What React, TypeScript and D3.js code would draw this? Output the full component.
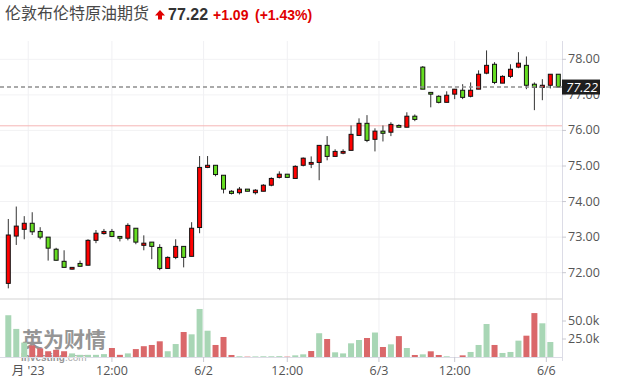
import React from 'react';
import * as d3 from 'd3';

const W = 622;
const H = 391;

const title = '伦敦布伦特原油期货';
const lastPriceText = '77.22';
const changeText = '+1.09';
const changePctText = '(+1.43%)';
const lastPrice = 77.22;
const prevClose = 76.13;

const opens = [
  71.70, 73.03, 73.22, 73.39, 73.16, 73.00, 72.66, 72.32, 72.10, 72.26,
  72.21, 72.91, 73.10, 73.16, 73.02, 72.97, 73.25, 72.77, 72.86, 72.71,
  72.12, 72.43, 72.74, 72.46, 73.27, 74.96, 75.02, 74.74, 74.29, 74.25,
  74.35, 74.25, 74.29, 74.46, 74.68, 74.77, 74.65, 75.02, 75.05, 75.10,
  75.58, 75.27, 75.36, 75.44, 75.86, 76.20, 75.75, 75.98, 75.95, 76.14,
  76.09, 76.40, 77.78, 77.07, 76.96, 76.79, 77.02, 77.13, 76.96, 77.16,
  77.61, 77.86, 77.33, 77.52, 77.78, 77.83, 77.30, 77.21, 77.27, 77.58,
];
const closes = [
  73.06, 73.31, 73.39, 73.15, 73.00, 72.69, 72.35, 72.15, 72.15, 72.18,
  72.91, 73.11, 73.16, 73.02, 72.97, 73.33, 72.86, 72.83, 72.74, 72.12,
  72.43, 72.74, 72.43, 73.25, 74.96, 75.02, 74.76, 74.35, 74.23, 74.35,
  74.29, 74.32, 74.46, 74.65, 74.77, 74.68, 74.99, 75.22, 75.10, 75.58,
  75.27, 75.41, 75.41, 75.89, 76.20, 75.72, 75.98, 75.92, 76.17, 76.09,
  76.40, 76.31, 77.16, 77.02, 76.79, 76.99, 77.16, 76.93, 77.13, 77.58,
  77.83, 77.35, 77.52, 77.72, 77.89, 77.27, 77.21, 77.27, 77.58, 77.22,
];
const highs = [
  73.51, 73.86, 73.59, 73.70, 73.28, 73.00, 72.70, 72.63, 72.16, 72.34,
  72.94, 73.20, 73.23, 73.23, 73.02, 73.39, 73.25, 73.05, 72.86, 72.80,
  72.46, 72.94, 72.74, 73.42, 75.28, 75.28, 75.02, 74.74, 74.32, 74.41,
  74.35, 74.35, 74.49, 74.68, 74.85, 74.77, 75.02, 75.24, 75.27, 75.58,
  75.84, 75.47, 75.47, 76.14, 76.34, 76.43, 76.06, 76.14, 76.23, 76.17,
  76.51, 76.45, 77.81, 77.07, 76.99, 77.10, 77.16, 77.30, 77.35, 77.69,
  78.25, 77.92, 77.55, 77.86, 78.20, 78.08, 77.35, 77.44, 77.58, 77.58,
];
const lows = [
  71.56, 72.78, 72.94, 73.06, 72.94, 72.34, 72.34, 72.15, 72.09, 72.18,
  72.21, 72.83, 73.07, 73.00, 72.88, 72.91, 72.80, 72.63, 72.38, 72.07,
  72.12, 72.38, 72.15, 72.46, 73.11, 74.94, 74.71, 74.23, 74.20, 74.20,
  74.29, 74.20, 74.29, 74.43, 74.65, 74.68, 74.65, 74.99, 74.94, 74.60,
  75.16, 75.27, 75.33, 75.44, 75.86, 75.67, 75.41, 75.69, 75.84, 76.09,
  76.09, 76.26, 77.16, 76.65, 76.76, 76.79, 76.88, 76.88, 76.93, 77.16,
  77.58, 77.30, 77.33, 77.47, 77.75, 77.16, 76.57, 76.85, 77.18, 77.22,
];
// volume in thousands
const volumes = [
  58, 39, 20, 16, 12, 8, 10, 8, 5, 3,
  3, 3, 4, 12.5, 3, 5, 11, 15, 16.7, 21.8,
  8, 18, 34.7, 31.5, 66.7, 36.5, 16.7, 27.8, 2.8, 1,
  0.5, 0.8, 1, 1, 1.2, 0.5, 2.3, 3.7, 8.3, 33,
  25, 6.5, 5, 19, 23.6, 26.4, 34, 13.9, 17.6, 29,
  12.5, 2.8, 3.7, 7.9, 2.8, 1, 0, 2.3, 7, 16.7,
  45.8, 16.7, 5.6, 7, 22.7, 29.6, 61, 46.8, 20.8, 0,
];

const xTickIndex = [2.5, 13, 24.5, 35, 46.5, 56, 67.5];
const xTickLabels = ["月 '23", '12:00', '6/2', '12:00', '6/3', '12:00', '6/6'];
const priceTicks = [72, 73, 74, 75, 76, 77, 78];
const volumeTicks = [25, 50];

const UP = '#ff0000';
const DOWN = '#66dd22';
const VOL_UP = '#a8d6b5';
const VOL_DOWN = '#da686a';
const LABEL_FONT = "'Open Sans', 'Noto Sans CJK SC', sans-serif";

export default function App() {
  const n = closes.length;
  const idx = d3.range(n);
  const plotRight = 562;
  const plotTop = 41;
  const paneBottom = 299;

  const x = d3.scaleLinear().domain([0, n - 1]).range([8.3, 558.3]);
  const y = d3.scaleLinear().domain([72, 78]).range([272.7, 59.3]);
  const yv = d3.scaleLinear().domain([0, 75]).range([357, 303]);
  const volBase = yv(0);

  const bodyW = 4;
  const volW = 6;

  return (
    <svg
      width={W}
      height={H}
      style={{ position: 'absolute', left: 0, top: 0, background: '#fff' }}
    >
      <rect x={0} y={0} width={W} height={H} fill="#fff" />

      {/* header */}
      <text x={5} y={19} fontSize={16} fill="#484848" fontFamily="'Noto Sans CJK SC', sans-serif">
        {title}
      </text>
      <path d="M155,15.5 L160,10 L165,15.5 L162,15.5 L162,19.5 L158,19.5 L158,15.5 Z" fill="#e00000" />
      <text x={168} y={19.5} fontSize={16} fontWeight="bold" fill="#333" fontFamily="'Liberation Sans', Arial, sans-serif">
        {lastPriceText}
      </text>
      <text x={213} y={19.5} fontSize={14} fontWeight="bold" fill="#e00000" fontFamily="'Liberation Sans', Arial, sans-serif">
        {changeText}
      </text>
      <text x={255} y={19.5} fontSize={14} fontWeight="bold" fill="#e00000" fontFamily="'Liberation Sans', Arial, sans-serif">
        {changePctText}
      </text>

      {/* horizontal grid */}
      {priceTicks.map((p) => (
        <line key={'hg' + p} x1={0} x2={plotRight} y1={y(p)} y2={y(p)} stroke="#f2f2f4" strokeWidth={1} />
      ))}
      {/* vertical grid */}
      {xTickIndex.map((t, i) => (
        <line key={'vg' + i} x1={x(t)} x2={x(t)} y1={plotTop} y2={volBase} stroke="#f0f0f3" strokeWidth={1} />
      ))}

      {/* pane separator */}
      <line x1={0} x2={plotRight} y1={paneBottom} y2={paneBottom} stroke="#d4d4d4" strokeWidth={1.2} />

      {/* watermark */}
      <g opacity={0.62}>
        <text x={22} y={347} fontSize={21} fontWeight="bold" fill="#555" fontFamily="'Noto Sans CJK SC', sans-serif">
          英为财情
        </text>
        <text x={21} y={361} fontSize={10} fontWeight="bold" fill="#555" fontFamily="'Liberation Sans', Arial, sans-serif">
          Investing<tspan fontWeight="normal" fill="#777">.com</tspan>
        </text>
      </g>

      {/* volume bars */}
      {idx.map((i) => {
        const prev = i > 0 ? closes[i - 1] : opens[i];
        const up = closes[i] >= prev;
        const v = volumes[i];
        if (v <= 0) return null;
        const top = yv(v);
        return (
          <rect
            key={'v' + i}
            x={x(i) - volW / 2}
            y={top}
            width={volW}
            height={volBase - top}
            fill={up ? VOL_UP : VOL_DOWN}
          />
        );
      })}

      {/* prev close line */}
      <line x1={0} x2={plotRight} y1={y(prevClose)} y2={y(prevClose)} stroke="#f5b5b5" strokeWidth={1} />

      {/* candles */}
      {idx.map((i) => {
        const o = opens[i];
        const c = closes[i];
        const up = c >= o;
        const cx = x(i);
        const yTop = y(Math.max(o, c));
        const yBot = y(Math.min(o, c));
        const h = Math.max(1.5, yBot - yTop);
        return (
          <g key={'c' + i}>
            <line x1={cx} x2={cx} y1={y(highs[i])} y2={y(lows[i])} stroke="#333" strokeWidth={1} />
            <rect
              x={cx - bodyW / 2}
              y={yTop}
              width={bodyW}
              height={h}
              fill={up ? UP : DOWN}
              stroke="#111"
              strokeWidth={1}
            />
          </g>
        );
      })}

      {/* last price dashed line */}
      <line
        x1={0}
        x2={plotRight}
        y1={y(lastPrice)}
        y2={y(lastPrice)}
        stroke="#8f8f8f"
        strokeWidth={1.6}
        strokeDasharray="4,3"
      />

      {/* axes */}
      <line x1={plotRight + 0.5} x2={plotRight + 0.5} y1={plotTop} y2={volBase + 4} stroke="#dcdce6" strokeWidth={1} />
      <line x1={0} x2={plotRight} y1={volBase + 0.5} y2={volBase + 0.5} stroke="#dcdce6" strokeWidth={1.2} />

      {priceTicks.map((p) => (
        <g key={'pt' + p}>
          <line x1={plotRight} x2={plotRight + 4} y1={y(p)} y2={y(p)} stroke="#c8c8d0" />
          <text x={568} y={y(p)} dy="0.32em" fontSize={12.5} fill="#555" fontFamily={LABEL_FONT}>
            {p.toFixed(2)}
          </text>
        </g>
      ))}

      {volumeTicks.map((v) => (
        <g key={'vt' + v}>
          <line x1={plotRight} x2={plotRight + 4} y1={yv(v)} y2={yv(v)} stroke="#c8c8d0" />
          <text x={568} y={yv(v)} dy="0.32em" fontSize={12.5} fill="#555" fontFamily={LABEL_FONT}>
            {v.toFixed(1) + 'k'}
          </text>
        </g>
      ))}

      {xTickIndex.map((t, i) => (
        <g key={'xt' + i}>
          <line x1={x(t)} x2={x(t)} y1={volBase} y2={volBase + 5} stroke="#c8c8d0" />
          <text x={x(t)} y={375} textAnchor="middle" fontSize={12.5} fill="#555" fontFamily={LABEL_FONT}>
            {xTickLabels[i]}
          </text>
        </g>
      ))}

      {/* last price label */}
      <rect x={plotRight} y={y(lastPrice) - 7.5} width={38} height={15} fill="#1e1e1e" />
      <text
        x={566}
        y={y(lastPrice)}
        dy="0.35em"
        fontSize={13}
        fontStyle="italic"
        fill="#fff"
        fontFamily={LABEL_FONT}
      >
        {lastPriceText}
      </text>
    </svg>
  );
}
